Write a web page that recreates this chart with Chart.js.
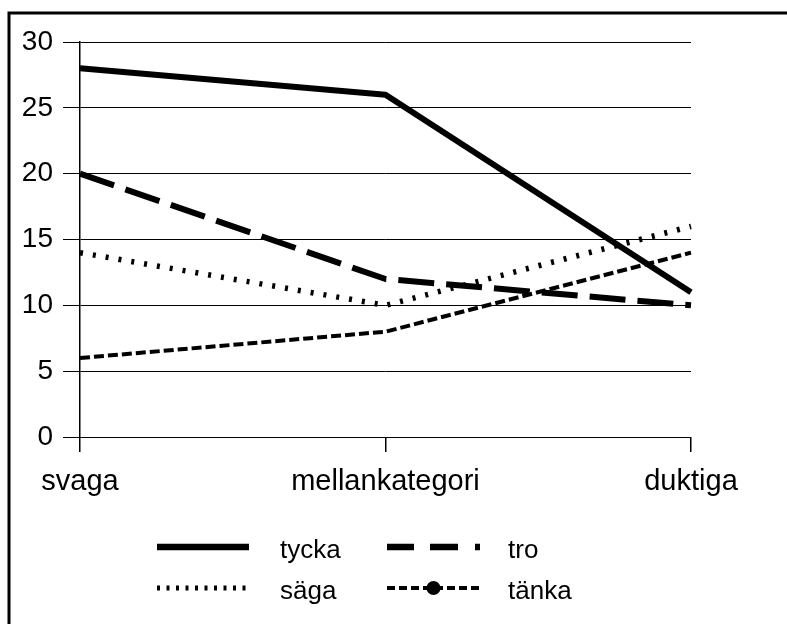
<!DOCTYPE html>
<html>
<head>
<meta charset="utf-8">
<script src="https://cdn.jsdelivr.net/npm/chart.js@4/dist/chart.umd.min.js"></script>
<style>
  html, body { margin: 0; padding: 0; background: #fff; }
  #wrap { width: 787px; height: 624px; position: relative; }
</style>
</head>
<body>
<div id="wrap"><canvas id="c" width="787" height="624"></canvas></div>
<script>
const categories = ['svaga', 'mellankategori', 'duktiga'];
const seriesNames = ['tycka', 'tro', 'säga', 'tänka'];
const tycka = [28, 26, 11];
const tro = [20, 12, 10];
const saga = [14, 10, 16];
const tanka = [6, 8, 14];
const yTicks = [0, 5, 10, 15, 20, 25, 30];

const FONT = "'Liberation Sans', Arial, sans-serif";

const frame = {
  id: 'frame',
  beforeDraw(chart) {
    const ctx = chart.ctx;
    ctx.save();
    ctx.fillStyle = '#fff';
    ctx.fillRect(0, 0, chart.width, chart.height);
    ctx.strokeStyle = '#000';
    ctx.lineWidth = 3;
    ctx.beginPath();
    ctx.moveTo(9, chart.height);
    ctx.lineTo(9, 13);
    ctx.lineTo(chart.width, 13);
    ctx.stroke();
    ctx.restore();
  }
};

const legendStyles = [
  { width: 6.5, dash: [] },
  { width: 6.5, dash: [27, 16, 28, 17, 5, 100] },
  { width: 5, dash: [3, 6.5] },
  { width: 4, dash: [8, 4], dot: true }
];

const customLegend = {
  id: 'customLegend',
  afterDraw(chart) {
    const ctx = chart.ctx;
    const cols = [{ x0: 157, x1: 249, tx: 280 }, { x0: 387, x1: 480, tx: 508 }];
    const rows = [{ ly: 547, by: 558 }, { ly: 588, by: 599 }];
    ctx.save();
    chart.data.datasets.forEach((ds, i) => {
      const c = cols[i % 2], r = rows[Math.floor(i / 2)];
      const st = legendStyles[i];
      ctx.strokeStyle = '#000';
      ctx.lineWidth = st.width;
      ctx.lineCap = 'butt';
      ctx.setLineDash(st.dash);
      ctx.beginPath();
      ctx.moveTo(c.x0, r.ly);
      ctx.lineTo(c.x1, r.ly);
      ctx.stroke();
      ctx.setLineDash([]);
      if (st.dot) {
        ctx.fillStyle = '#000';
        ctx.beginPath();
        ctx.arc((c.x0 + c.x1) / 2, r.ly, 7, 0, Math.PI * 2);
        ctx.fill();
      }
      ctx.fillStyle = '#000';
      ctx.font = '26px ' + FONT;
      ctx.textBaseline = 'alphabetic';
      ctx.textAlign = 'left';
      ctx.fillText(ds.label, c.tx, r.by);
    });
    ctx.restore();
  }
};

const dsBase = { borderColor: '#000', backgroundColor: '#000', pointRadius: 0, pointHoverRadius: 0,
  tension: 0, fill: false, borderJoinStyle: 'round', borderCapStyle: 'butt' };

new Chart(document.getElementById('c'), {
  type: 'line',
  data: {
    labels: categories,
    datasets: [
      Object.assign({}, dsBase, { label: seriesNames[0], data: tycka, borderWidth: 6 }),
      Object.assign({}, dsBase, { label: seriesNames[1], data: tro, borderWidth: 6, borderDash: [36, 12] }),
      Object.assign({}, dsBase, { label: seriesNames[2], data: saga, borderWidth: 5.5, borderDash: [3, 10] }),
      Object.assign({}, dsBase, { label: seriesNames[3], data: tanka, borderWidth: 4, borderDash: [10, 4] })
    ]
  },
  options: {
    responsive: false,
    animation: false,
    devicePixelRatio: 1,
    layout: { padding: { left: 0, top: 42, right: 96, bottom: 117 } },
    plugins: { legend: { display: false }, tooltip: { enabled: false } },
    scales: {
      x: {
        offset: false,
        afterFit(s) { s.height = 70; },
        grid: { drawOnChartArea: false, drawTicks: true, tickLength: 15, color: '#000', tickColor: '#000', lineWidth: 1.5, offset: false },
        border: { display: true, color: '#000', width: 1 },
        ticks: { color: '#000', font: { family: FONT, size: 29 }, padding: 13, maxRotation: 0, autoSkip: false }
      },
      y: {
        min: 0, max: 30,
        afterFit(s) { s.width = 80; },
        afterBuildTicks(s) { s.ticks = yTicks.map(v => ({ value: v })); },
        grid: { color: '#000', tickColor: '#000', lineWidth: 1, tickLength: 17 },
        border: { display: true, color: '#000', width: 1.5 },
        ticks: { color: '#000', font: { family: FONT, size: 28 }, padding: 10 }
      }
    }
  },
  plugins: [frame, customLegend]
});
</script>
</body>
</html>
